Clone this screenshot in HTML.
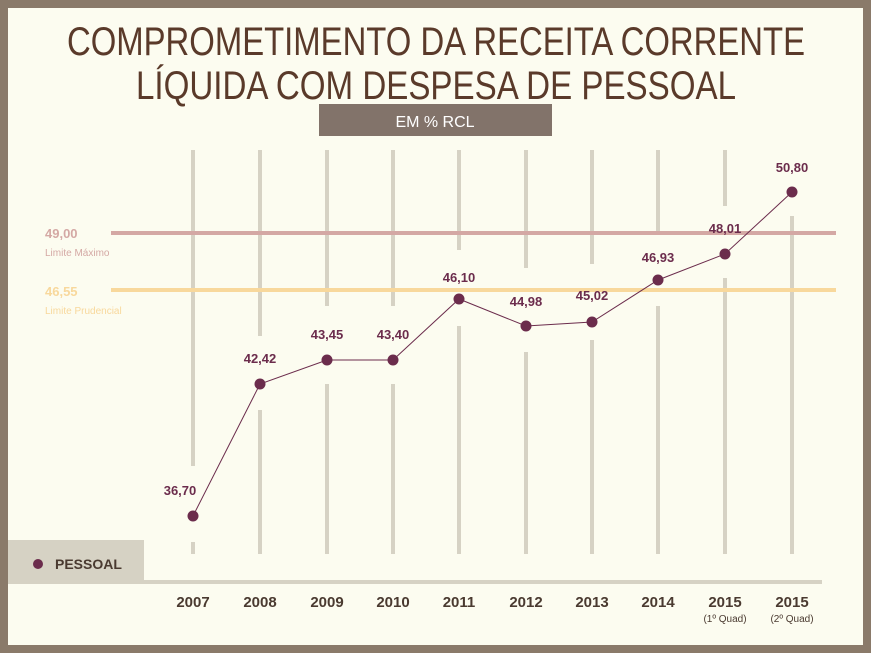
<!DOCTYPE html>
<html><head><meta charset="utf-8"><style>
html,body{margin:0;padding:0;background:#8a7a6a}
svg{display:block}
</style></head><body>
<svg width="871" height="653" viewBox="0 0 871 653" xmlns="http://www.w3.org/2000/svg">
<rect x="0" y="0" width="871" height="653" fill="#8a7a6a"/>
<rect x="8" y="8" width="855" height="637" fill="#fcfcf0"/>
<g font-family="'Liberation Sans Narrow','Liberation Sans',sans-serif" fill="#5a3a2a" font-size="40">
<text x="436" y="55" text-anchor="middle" textLength="738" lengthAdjust="spacingAndGlyphs">COMPROMETIMENTO DA RECEITA CORRENTE</text>
<text x="436" y="99" text-anchor="middle" textLength="600" lengthAdjust="spacingAndGlyphs">LÍQUIDA COM DESPESA DE PESSOAL</text>
</g>
<rect x="319" y="104" width="233" height="32" fill="#82736a"/>
<text x="435" y="127" text-anchor="middle" font-family="'Liberation Sans',sans-serif" font-size="16" fill="#fff">EM % RCL</text>
<g stroke="#d6d2c4" stroke-width="4">
<line x1="193" y1="150" x2="193" y2="466"/><line x1="193" y1="542" x2="193" y2="554"/>
<line x1="260" y1="150" x2="260" y2="336"/><line x1="260" y1="410" x2="260" y2="554"/>
<line x1="327" y1="150" x2="327" y2="306"/><line x1="327" y1="384" x2="327" y2="554"/>
<line x1="393" y1="150" x2="393" y2="306"/><line x1="393" y1="384" x2="393" y2="554"/>
<line x1="459" y1="150" x2="459" y2="250"/><line x1="459" y1="326" x2="459" y2="554"/>
<line x1="526" y1="150" x2="526" y2="268"/><line x1="526" y1="352" x2="526" y2="554"/>
<line x1="592" y1="150" x2="592" y2="264"/><line x1="592" y1="340" x2="592" y2="554"/>
<line x1="658" y1="150" x2="658" y2="232"/><line x1="658" y1="306" x2="658" y2="554"/>
<line x1="725" y1="150" x2="725" y2="206"/><line x1="725" y1="278" x2="725" y2="554"/>
<line x1="792" y1="216" x2="792" y2="554"/>
</g>
<rect x="111" y="231" width="725" height="4" fill="#d4a8a4"/>
<rect x="111" y="288" width="725" height="4" fill="#f8d89c"/>
<g font-family="'Liberation Sans',sans-serif">
<text x="45" y="238" font-size="13" font-weight="bold" fill="#d4a8a4">49,00</text>
<text x="45" y="256" font-size="10" fill="#d4a8a4">Limite Máximo</text>
<text x="45" y="296" font-size="13" font-weight="bold" fill="#f8d89c">46,55</text>
<text x="45" y="314" font-size="10" fill="#f8d89c">Limite Prudencial</text>
</g>
<rect x="144" y="580" width="678" height="4" fill="#d6d2c4"/>
<rect x="8" y="540" width="136" height="44" fill="#d6d2c4"/>
<circle cx="38" cy="564" r="5" fill="#6b2c4c"/>
<text x="55" y="569" font-family="'Liberation Sans Narrow','Liberation Sans',sans-serif" font-weight="bold" font-size="14" fill="#4a3a30">PESSOAL</text>
<polyline points="193,516 260,384 327,360 393,360 459,299 526,326 592,322 658,280 725,254 792,192" fill="none" stroke="#6b2c4c" stroke-width="1"/>
<g fill="#6b2c4c">
<circle cx="193" cy="516" r="5.5"/><circle cx="260" cy="384" r="5.5"/><circle cx="327" cy="360" r="5.5"/><circle cx="393" cy="360" r="5.5"/><circle cx="459" cy="299" r="5.5"/><circle cx="526" cy="326" r="5.5"/><circle cx="592" cy="322" r="5.5"/><circle cx="658" cy="280" r="5.5"/><circle cx="725" cy="254" r="5.5"/><circle cx="792" cy="192" r="5.5"/>
</g>
<g font-family="'Liberation Sans',sans-serif" font-weight="bold" font-size="13" fill="#6b2c4c" text-anchor="middle">
<text x="180" y="495">36,70</text>
<text x="260" y="363">42,42</text>
<text x="327" y="339">43,45</text>
<text x="393" y="339">43,40</text>
<text x="459" y="282">46,10</text>
<text x="526" y="306">44,98</text>
<text x="592" y="300">45,02</text>
<text x="658" y="262">46,93</text>
<text x="725" y="233">48,01</text>
<text x="792" y="172">50,80</text>
</g>
<g font-family="'Liberation Sans Narrow','Liberation Sans',sans-serif" font-weight="bold" font-size="15" fill="#4a3a30" text-anchor="middle">
<text x="193" y="607">2007</text><text x="260" y="607">2008</text><text x="327" y="607">2009</text><text x="393" y="607">2010</text><text x="459" y="607">2011</text><text x="526" y="607">2012</text><text x="592" y="607">2013</text><text x="658" y="607">2014</text><text x="725" y="607">2015</text><text x="792" y="607">2015</text>
</g>
<g font-family="'Liberation Sans Narrow','Liberation Sans',sans-serif" font-size="10" fill="#4a3a30" text-anchor="middle">
<text x="725" y="622">(1º Quad)</text><text x="792" y="622">(2º Quad)</text>
</g>
</svg>
</body></html>
